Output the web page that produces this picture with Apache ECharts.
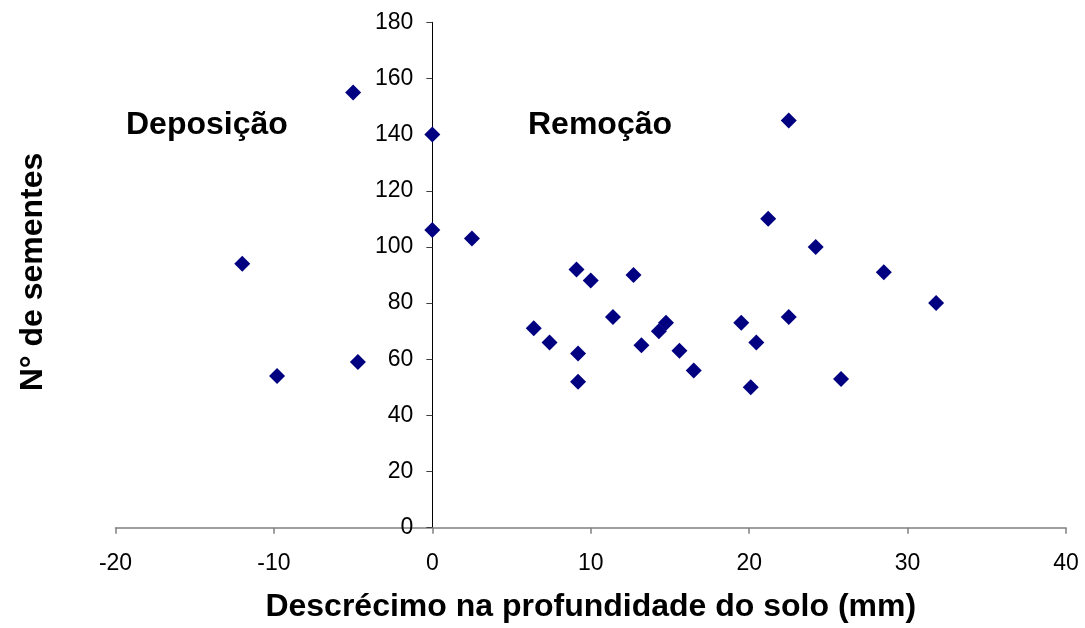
<!DOCTYPE html>
<html>
<head>
<meta charset="utf-8">
<script src="https://cdn.jsdelivr.net/npm/echarts@6/dist/echarts.min.js"></script>
<style>html,body{margin:0;padding:0;background:#fff;}#c{width:1085px;height:628px;}</style>
</head>
<body>
<div id="c"></div>
<script>
var xValues = [-12, -9.8, -5, -4.7, 0, 0, 2.5, 6.4, 7.4, 9.1, 10.0, 9.2, 9.2, 11.4, 12.7, 13.2, 14.3, 14.75, 15.6, 16.5, 19.5, 20.1, 20.45, 22.5, 24.2, 25.8, 28.5, 31.8, 22.5, 21.2];
var yValues = [94, 54, 155, 59, 140, 106, 103, 71, 66, 92, 88, 62, 52, 75, 90, 65, 70, 73, 63, 56, 73, 50, 66, 75, 100, 53, 91, 80, 145, 110];
var annotations = ["Deposição", "Remoção"];
var xTitle = "Descrécimo na profundidade do solo (mm)";
var yTitle = "N° de sementes";

var gridLeft = 115.5, gridRight = 19, W = 1085;
var xMin = -20, xMax = 40;
var yAxisOffset = -((0 - xMin) / (xMax - xMin)) * (W - gridLeft - gridRight);

var points = xValues.map(function (x, i) { return [x, yValues[i]]; });
var chart = echarts.init(document.getElementById('c'), null, { renderer: 'canvas' });
chart.setOption({
  animation: false,
  backgroundColor: '#ffffff',
  grid: { left: gridLeft, right: gridRight, top: 22.3, bottom: 100.3, containLabel: false },
  xAxis: {
    type: 'value', min: xMin, max: xMax, interval: 10,
    name: xTitle, nameLocation: 'middle', nameGap: 63,
    nameTextStyle: { fontFamily: 'Liberation Sans, Arial', fontWeight: 'bold', fontSize: 32, color: '#000' },
    axisLine: { onZero: false, lineStyle: { color: '#808080', width: 1.5 } },
    axisTick: { show: true, inside: false, length: 6, lineStyle: { color: '#808080', width: 1.5 } },
    axisLabel: { fontFamily: 'Liberation Sans, Arial', fontSize: 23, color: '#000', margin: 24 },
    splitLine: { show: false }
  },
  yAxis: {
    type: 'value', min: 0, max: 180, interval: 20,
    position: 'left', offset: yAxisOffset,
    axisLine: { onZero: false, lineStyle: { color: '#000', width: 1 } },
    axisTick: { show: true, inside: false, length: 6, lineStyle: { color: '#404040', width: 1 } },
    axisLabel: { fontFamily: 'Liberation Sans, Arial', fontSize: 23, color: '#000', margin: 19 },
    splitLine: { show: false }
  },
  graphic: [
    { type: 'text', x: 126, y: 125, style: { text: annotations[0], font: 'bold 32px "Liberation Sans", Arial', fill: '#000', verticalAlign: 'middle' } },
    { type: 'text', x: 528, y: 125, style: { text: annotations[1], font: 'bold 32px "Liberation Sans", Arial', fill: '#000', verticalAlign: 'middle' } },
    { type: 'text', x: 33, y: 272, rotation: Math.PI / 2, style: { text: yTitle, font: 'bold 32px "Liberation Sans", Arial', fill: '#000', align: 'center', verticalAlign: 'middle' } }
  ],
  series: [{
    type: 'scatter',
    data: points,
    symbol: 'diamond',
    symbolSize: 16,
    itemStyle: { color: '#000080', opacity: 1 }
  }]
});
</script>
</body>
</html>
